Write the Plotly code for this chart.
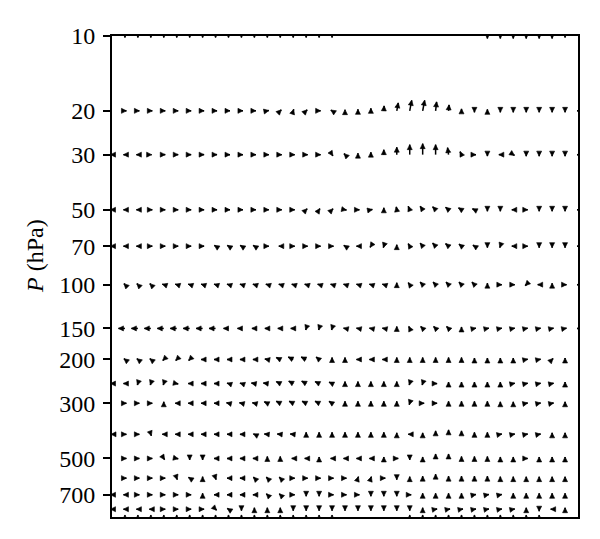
import math
import plotly.graph_objects as go

# ---------------- data ----------------
LON = [0, 10, 20, 30, 40, 50, 60, 70, 80, 90, 100, 110, 120, 130, 140, 150, 160, 170, 180,
       190, 200, 210, 220, 230, 240, 250, 260, 270, 280, 290, 300, 310, 320, 330, 340, 350, 360]

LEVELS = [10, 20, 30, 50, 70, 100, 150, 200, 250, 300, 400, 500, 600, 700, 800, 850]

TICK_VALS = [10, 20, 30, 50, 70, 100, 150, 200, 300, 500, 700]
TICK_TEXT = ["10", "20", "30", "50", "70", "100", "150", "200", "300", "500", "700"]

# zonal component (u) and vertical component (w) of each arrow, one list per level
U10 = [0, 0, 0, 0, 0, 0, 0, 0, 0, 0, 0, 0, 0, 0, 0, 0, 0, 0, 0, 0, 0, 0, 0, 0, 0, 0, 0, 0, 0, 0, 0, 0, 0, 0, 0, 0, 0]
W10 = [0, -1.5, -1.5, -1.5, -1.5, -1.5, -1.5, -1.5, -1.5, -1.5, -1.5, -1.5, -1.5, -1.5, -1.5, -1.5, -1.5, -1.5,
       0, 0, 0, 0, 0, 0, 0, 0, 0, 0, 0, -2.5, -2.5, -2.5, -2.5, -2.5, -2.5, -1.5, 0]

U20 = [0, 1.5, 1.5, 1.5, 1.5, 1.5, 1.5, 1.5, 1.5, 1.5, 1.5, 1.5, 1.5, 1, 0.5, 1, 1.5, -1.2, 0, 0, 0, 0.3, 1.5,
       2, 2, 1, 0.5, 0, 0, 0, 0, 0, 0, 0, 0, 0, -1]
W20 = [0, 0, 0, 0, 0, 0, 0, 0, 0, 0, 0, 0, 0.3, 1, 1.5, 1, 0, 0.8, 1.2, 1.5, 2.5, 5, 8, 10.5, 10.5, 9, 6, 2,
       -1.5, 1.5, -1.5, -1.5, -1.5, -1.5, -1.5, -1.5, 0]

U30 = [-1.5, -1.5, -1.5, 0.8, 1.5, 1.5, 1.5, 1.5, 1.5, 1.5, 1.5, 1.5, 1.5, 1.5, 1.5, 1.5, 1.5, 0.8, -1, 0, 0, 0,
       0, 0, 0, 0, -1, -1.5, 1.5, 0, -1.5, 1.2, 0, 0, 0, 0, -1]
W30 = [0, 0, 0, 0, 0, 0, 0, 0, 0, 0, 0, 0, 0, 0, 0, 0, 0, -1.2, 1, 1.5, 2.5, 5, 7.5, 10, 11, 10, 7, 3, 0, -1.5,
       0, -0.8, -1.5, -1.5, -1.5, -1.5, 0]

U50 = [-1.5, -1.5, -1.5, 1.5, 1.5, 1.5, 1.5, 1.5, 1.5, 1.5, 1.5, 1.5, 1.5, 1.5, 1.5, 1, 0.8, 1, 1.5, 1.5, 1.5, 0,
       -0.5, -1.5, -2.5, -3, -3, -3, -2, 0, 0, -1.5, 1.5, 0, 0, 0, -1]
W50 = [0, 0, 0, 0, 0, 0, 0, 0, 0, 0, 0, 0, 0, 0, 0, 1, 1.2, 1, -0.3, 0, 0.3, 2, 3, 3.5, 3.5, 3, 2.5, 2, 1, -1.5,
       -1.5, 0, 0, -1.5, -1.5, -1.5, 0]

U70 = [-1.5, -1.5, -1.5, 1.5, 1.5, 1.5, 1.5, 1.5, -1.2, -1.2, -1.2, -1.2, 1.5, -1.5, 1.5, 1.5, 1.5, 1.5, -1.2,
       -1.5, -0.8, -0.5, 0, -1.5, -2.5, -3, -3, -2.5, -1.5, 0, -0.5, -1.5, 1.5, 0, 0, 0, -1]
W70 = [0, 0, 0, 0, 0, 0, 0, 0, 0.8, 0.8, 0.8, 0.8, 0, 0, 0, 0, 0, 0, 0.8, 0, -1.2, -1.5, 1.5, 2.5, 3, 3, 2.5, 2,
       1, -1.5, -1.5, 0, 0, -1.5, -1.5, -1.5, 0]

U100 = [0, -1, -1, -1, -1.5, -1.5, -1.5, -1.5, -1.5, -1.5, -1.5, -1.5, -1.5, -1.5, -1.5, -1.5, -1.5, -1.5, -1.5,
        -1.5, -1.5, -1.5, 0, -1.5, -2.5, -2.5, -2.5, -2.5, -2.5, 0, 1.5, 1.5, -1, -1.5, 0, 1.5, -1]
W100 = [0, 1, 1, 1, 0.5, 0.5, 0.5, 0.5, 0.5, 0.5, 0.5, 0.5, 0.5, 0.5, 0.5, 0.5, 0.5, 0.5, 0.5, 0.5, 0.5, 0.5, 2,
        2, 2.5, 2.5, 2.5, 2.5, 2.5, 1.5, 0, 0, -1, 0, 1.5, 0, 0]

U150 = [-6, -6.5, -6.5, -6.5, -6.5, -6.5, -6.5, -6.5, -6.5, -5, -4, -2.5, -2.5, -2.5, -2.5, -0.5, -0.5, -0.5,
        -1.5, -1.5, -1.5, -1.5, 0, -1, -2, -2, -2, 0, 1.5, 1.5, 1.5, 1.5, 1.5, 1.5, 1.5, 1.5, -1]
W150 = [0, 0, 0, 0, 0, 0, 0, 0, 0, 0, 0, 0, 0, 0, 0, -1.5, -1.5, -1.5, 0.3, 0.3, 0.3, 0.3, 2, 2, 2, 2, 2, 1.5,
        0.3, 0.3, 0.3, 0.3, 0.3, 0.3, 0.3, 0.3, 0]

U200 = [0, -1, -1, -1, -1, -1, -1, -1.5, -1.5, -1.5, -1.5, -1.5, -2.5, -4, -5, -5, -3, 0, 0, -1.5, -1.5, -1.5,
        0, 0, 0, 0, 0, 0, 0, 0, 0, 0, 1.5, 1.5, 1, 0, 0]
W200 = [0, 0.8, 0.8, 0.8, -1, -1, -1, 0, 0, 0, 0, 0, 0.5, 2, 2.5, 2.5, 2.5, 2, 2, 0, 0, 0, 2, 2, 2, 2, 2, 2, 1.5,
        1.5, 1.5, 1.5, 0.3, 0.3, 1, 1.5, 0]

U250 = [-1.5, -1.5, -0.5, -0.5, -0.5, 1.5, -1.5, -1.5, -1.5, -1.5, -1.5, -3, -4, -4, -4.5, -4.5, -4, -3, 0, 0,
        0, 0, 0, -0.5, -0.5, 1.5, 0, 0, 0, 0, 0, 1.5, 1.5, 1.5, 1.5, 0, 0]
W250 = [0, 0, -1.5, -1.5, -1.5, -0.3, 0, 0, 0, 0.5, 0.5, 0.5, 0.5, 2, 2.5, 2.5, 2, 1.5, 2, 2, 2, 2, 2, -1.5,
        -1.5, 0, 1.5, 1.5, 1.5, 1.5, 1.5, 0.3, 0.3, 0.3, 0.3, 1.5, 0]

U300 = [0, 1.5, 1.5, 1.5, 0, -1.5, -1.5, -1.5, -1.5, -2, -2, -2, -3, -4, -4, -4, -4, -3, 0, 0, 0, 0, 0, -0.5,
        1.5, 1.5, 0, 0, 0, 0, 0, 0, 1.5, 1.5, 1.5, 0, 0]
W300 = [0, 0, 0, 0, 1.5, 0, 0, 0, 0, 0.5, 0.5, 0.5, 1.5, 2, 2, 2, 2, 2, 2, 2, 2, 2, 2, -1.5, 0, 0, 2, 2, 2, 2,
        1.5, 1.5, 0.3, 0.3, 0.3, 1.5, 0]

U400 = [-1, 1.5, 1.5, 0.5, -1.5, -1.5, -1.5, -1.5, -1.5, -1.5, -1.5, -1, -3, -3, -3, 0, 0, 0, 0, 0, 0, 0, 0,
        -1.5, 0, 0, 0, 0, 0, 0, 1.5, 1.5, 1.5, 1.5, 0, 0, 0]
W400 = [0, 0, 0, -1.5, 0, 0, 0, 0, 0, 0, 0, 0.5, 0.3, 0.3, 0.3, 2, 2, 2, 2, 2, 2, 2, 1.5, 0, 1.5, 3.5, 4.5, 3.5,
        2, 2, 0.3, 0.3, 0.3, 0.3, 1.5, 1.5, 0]

U500 = [0, 1.5, 1.5, 1.5, 0.8, 1.5, 0, 0, -1.5, -1.5, -1.5, -1.5, 0, 0, -1.5, -1.5, 0, -1.5, -1.5, -1.5, -1.5,
        0, 1.5, 0, 0, 0, 0, 0, 0, 0, 0, 0, 1.5, 0, 0, 0, 0]
W500 = [0, 0, 0, 0, -1.2, -0.3, -1.5, -1.5, 0, 0, 0, 0, 2, 2, 0, 0, 1.5, 0, 0, 0, 0, 1.5, 0, -1.5, 1.5, 4.5,
        4.5, 2, 2, 2, 1.5, 1.5, 0, 1.5, 1.5, 1.5, 0]

U600 = [0, 1.5, 1.5, 1.5, 1.5, 0.5, -1.2, 0, 0.5, -1.5, -1.5, -1, -1, -1, 1.5, 1.5, 1.5, 1.5, 1.5, 0.5, 0.5,
        1.5, 0, 0, 0, 0, 0, 0, 0, 0, 0, 0, 0, 0, 0, 0, 0]
W600 = [0, 0, 0, 0, 0, -1.5, 0.8, 1.5, -1.5, 0, 0, 1, 1, 1, 0, 0, 0, 0, 0, 1.5, 1.5, 0, -1.5, 1.5, 2, 4, 2, 2,
        2, 2, 1.5, 1.5, 1.5, 1.5, 1.5, 1.5, 0]

U700 = [-1.5, -1.5, 1.5, 1.5, 1.5, 1.5, 1.5, 0, -1.5, -1.5, -1.5, -1.5, -1, -1, 1.5, 0, 0, 1.5, 1.5, 1.5, 0, 0,
        0, 1.5, 0, 0, 0, 0, 1.5, 1.5, 1.5, 0, 0, 0, 0, 0, 0]
W700 = [0, 0, 0, 0, 0, 0, 0, 1.5, 0, 0, 0, 0, 1, 1, 0, -1.5, -1.5, 0, 0, 0, -1.5, -1.5, -1.5, 0, 1.5, 1.5, 1.5,
        1.5, 0.3, 0.3, 0.3, 1.5, 1.5, 1.5, 1.5, 1.5, 0]

U800 = [-1.5, -1.5, -1.5, -1.5, 1.5, 1.5, 1.5, 1.5, 1, -1.2, 0, 0, 0, 0, 0, 0, 0, 0, 0, 0, 0, 0, 0, 0, 0, 1.5,
        1.5, 1.5, 1.5, 1.5, 1.5, 1.5, 0, 0, -1.5, 0, 0]
W800 = [0, 0, 0, 0, 0, 0, 0, 0, -1, 0.8, -1.5, 1.5, 1.5, 1.5, -1.5, -1.5, -1.5, -1.5, -1.5, -1.5, -1.5, -1.5,
        -1.5, -1.5, 1.5, 0.3, 0.3, 0.3, 0.3, 0.3, 0.3, 0.3, 1.5, -2, 0, 1.5, 0]

U850 = [0, 0, 0, 0, 0, 0, 0, 0, 0, 0, 0, 0, 0, 0, 0, 0, 0, 0, 0, 0, 0, 0, 0, 0, 0, 0, 0, 0, 0, 0, 0, 0, 0, 0, 0, 0, 0]
W850 = [0, 0.8, 0.8, 0.8, 0.8, 0.8, 0.8, 0.8, 0.8, 0.8, 0.8, 0.8, 0.8, 0.8, 0.8, 0.8, 0.8, 0.8, 0, 0, 0, 0, 0,
        0.8, 0.8, 0.8, 0.8, 0.8, 0.8, 0.8, 0.8, 0.8, 0.8, 0.8, 0, 0, 0]

U_ROWS = [U10, U20, U30, U50, U70, U100, U150, U200, U250, U300, U400, U500, U600, U700, U800, U850]
W_ROWS = [W10, W20, W30, W50, W70, W100, W150, W200, W250, W300, W400, W500, W600, W700, W800, W850]

Y_TITLE = "<i>P</i> (hPa)"

# ---------------- layout ----------------
# the page body has an 8px margin, so the figure is 16px smaller than the window
WIDTH, HEIGHT = 584, 523
MARGIN = dict(l=104, r=14, t=28, b=14)
P_TOP, P_BOTTOM = 10, 860
X_MIN, X_MAX = 0, 360

plot_w = WIDTH - MARGIN["l"] - MARGIN["r"]
plot_h = HEIGHT - MARGIN["t"] - MARGIN["b"]
px_per_deg = plot_w / (X_MAX - X_MIN)
px_per_dec = plot_h / (math.log10(P_BOTTOM) - math.log10(P_TOP))

shaft_x, shaft_y = [], []
head_x, head_y, head_ang = [], [], []
for p, urow, wrow in zip(LEVELS, U_ROWS, W_ROWS):
    for lon, u, w in zip(LON, urow, wrow):
        if u == 0 and w == 0:
            continue
        hx = lon + u / px_per_deg
        hy = 10 ** (math.log10(p) - w / px_per_dec)
        shaft_x += [lon, hx, None]
        shaft_y += [p, hy, None]
        head_x.append(hx)
        head_y.append(hy)
        head_ang.append(math.degrees(math.atan2(u, w)))

fig = go.Figure()
fig.add_trace(go.Scatter(x=shaft_x, y=shaft_y, mode="lines",
                         line=dict(color="black", width=1.5),
                         hoverinfo="skip", showlegend=False))
fig.add_trace(go.Scatter(x=head_x, y=head_y, mode="markers",
                         marker=dict(symbol="arrow-up", size=5, angle=head_ang,
                                     color="black", line=dict(width=0.6, color="black")),
                         hoverinfo="skip", showlegend=False))

fig.update_layout(
    width=WIDTH, height=HEIGHT, margin=MARGIN,
    paper_bgcolor="white", plot_bgcolor="white",
    font=dict(family="Liberation Serif, Times New Roman, serif", color="black"),
)
fig.update_xaxes(range=[X_MIN, X_MAX], showticklabels=False, ticks="", showgrid=False,
                 zeroline=False, showline=True, linecolor="black", linewidth=2, mirror=True)
fig.update_yaxes(type="log", range=[math.log10(P_BOTTOM), math.log10(P_TOP)],
                 tickvals=TICK_VALS, ticktext=TICK_TEXT, ticks="outside", ticklen=7,
                 tickwidth=1.5, tickcolor="black", tickfont=dict(size=24, color="black"),
                 ticklabelstandoff=3,
                 showgrid=False, zeroline=False, showline=True, linecolor="black",
                 linewidth=2, mirror=True)

# axis title, placed a little above the middle of the axis as in the original
fig.add_annotation(text=Y_TITLE, textangle=-90, showarrow=False,
                   xref="paper", yref="paper", x=-0.165, y=0.543,
                   xanchor="center", yanchor="middle",
                   font=dict(size=24, color="black"))

fig.write_html("out.html")
